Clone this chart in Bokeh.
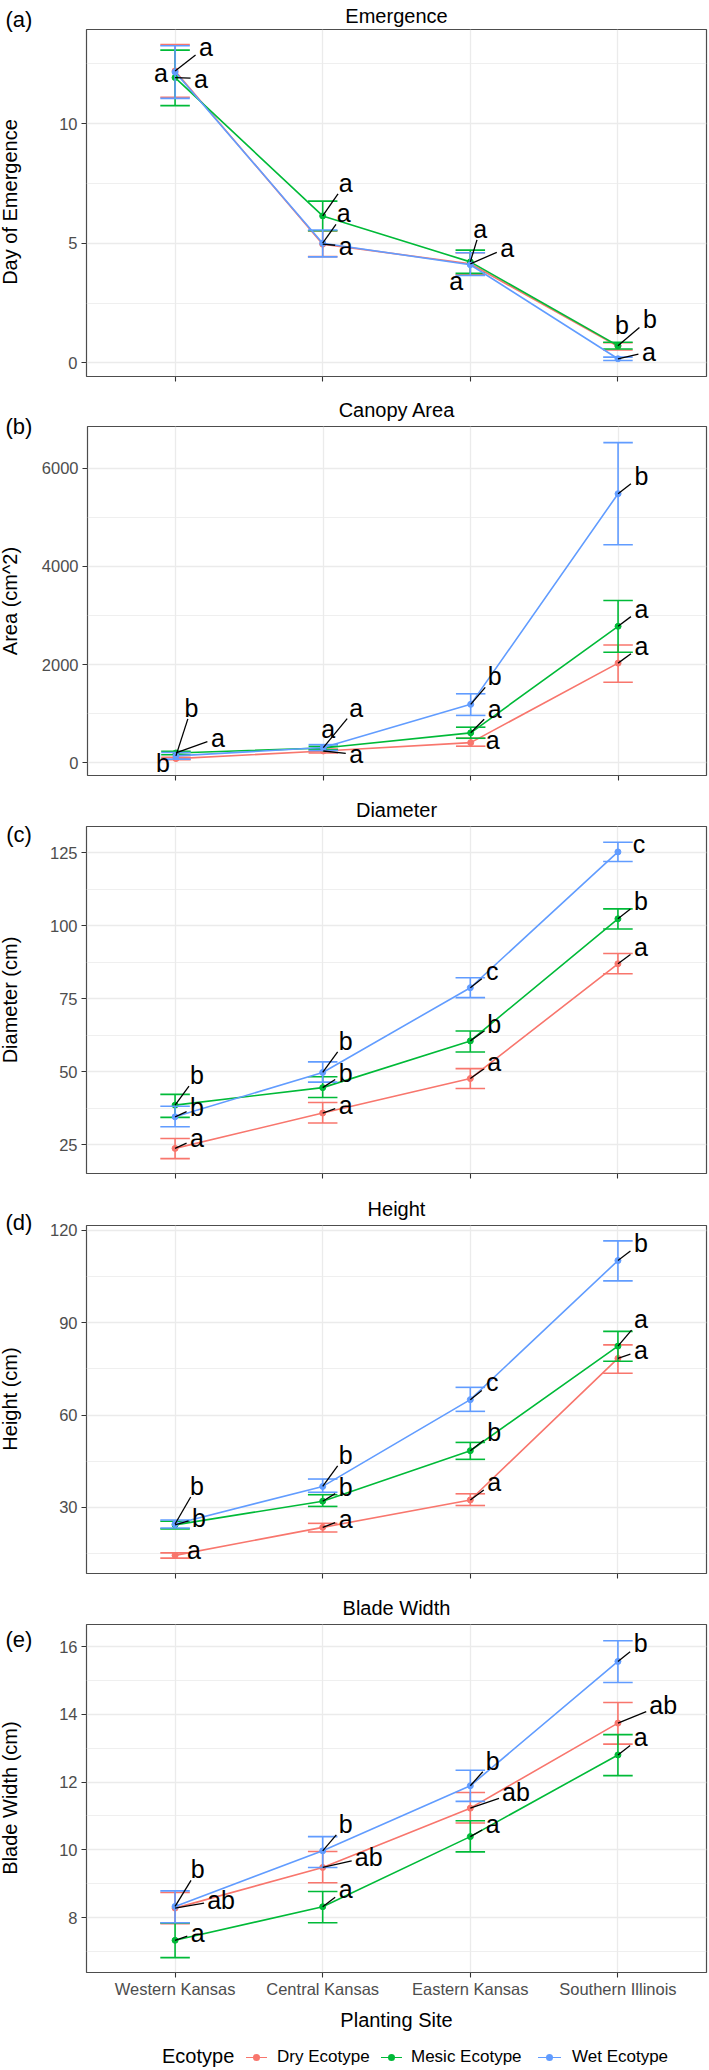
import math
from bokeh.plotting import figure
from bokeh.models import Range1d, FixedTicker, Div
from bokeh.layouts import column, row
from bokeh.embed import file_html
from bokeh.resources import INLINE
from bokeh.core.properties import value

# ---------------- data ----------------
SITES = ["Western Kansas", "Central Kansas", "Eastern Kansas", "Southern Illinois"]
ECOTYPES = ["Dry Ecotype", "Mesic Ecotype", "Wet Ecotype"]
COLORS = ["#F8766D", "#00BA38", "#619CFF"]

# (a) Emergence (day)
emer_dry = [12.20, 4.96, 4.14, 0.69]
emer_dry_lo = [11.10, 4.44, 3.68, 0.54]
emer_dry_hi = [13.30, 5.51, 4.60, 0.84]
emer_mesic = [11.92, 6.14, 4.22, 0.72]
emer_mesic_lo = [10.75, 5.52, 3.74, 0.58]
emer_mesic_hi = [13.07, 6.76, 4.71, 0.86]
emer_wet = [12.15, 5.00, 4.10, 0.17]
emer_wet_lo = [11.05, 4.43, 3.65, 0.10]
emer_wet_hi = [13.25, 5.55, 4.60, 0.24]
emer_letters = [["a", "a", "a", "b"], ["a", "a", "a", "b"], ["a", "a", "a", "a"]]

# (b) Canopy area (cm^2)
area_dry = [85, 240, 410, 2030]
area_dry_lo = [62, 200, 338, 1640]
area_dry_hi = [110, 280, 500, 2400]
area_mesic = [200, 300, 610, 2780]
area_mesic_lo = [165, 265, 500, 2250]
area_mesic_hi = [235, 335, 725, 3305]
area_wet = [140, 310, 1190, 5480]
area_wet_lo = [75, 250, 965, 4440]
area_wet_hi = [210, 370, 1405, 6520]
area_letters = [["b", "a", "a", "a"], ["a", "a", "a", "a"], ["b", "a", "b", "b"]]

# (c) Diameter (cm)
diam_dry = [23.8, 35.9, 47.7, 87.0]
diam_dry_lo = [20.3, 32.5, 44.3, 83.6]
diam_dry_hi = [27.2, 39.5, 51.1, 90.5]
diam_mesic = [38.6, 44.6, 60.6, 102.4]
diam_mesic_lo = [34.4, 41.2, 56.8, 98.9]
diam_mesic_hi = [42.3, 48.3, 64.0, 105.8]
diam_wet = [34.6, 49.8, 78.8, 125.3]
diam_wet_lo = [31.2, 46.5, 75.4, 122.0]
diam_wet_hi = [38.2, 53.4, 82.2, 128.6]
diam_letters = [["a", "a", "a", "a"], ["b", "b", "b", "b"], ["b", "b", "c", "c"]]

# (d) Height (cm)
hgt_dry = [14.4, 23.5, 32.4, 78.4]
hgt_dry_lo = [13.5, 22.0, 30.6, 73.6]
hgt_dry_hi = [15.2, 24.8, 34.4, 82.8]
hgt_mesic = [24.3, 32.0, 48.4, 82.4]
hgt_mesic_lo = [23.0, 30.3, 45.6, 77.5]
hgt_mesic_hi = [25.5, 34.1, 51.1, 87.2]
hgt_wet = [24.6, 36.8, 65.0, 110.2]
hgt_wet_lo = [23.3, 34.9, 61.2, 103.6]
hgt_wet_hi = [25.9, 39.2, 69.0, 116.6]
hgt_letters = [["a", "a", "a", "a"], ["b", "b", "b", "a"], ["b", "b", "c", "b"]]

# (e) Blade width (cm)
blade_dry = [8.28, 9.48, 11.23, 13.74]
blade_dry_lo = [7.82, 9.03, 10.79, 13.12]
blade_dry_hi = [8.74, 9.95, 11.69, 14.35]
blade_mesic = [7.33, 8.32, 10.39, 12.80]
blade_mesic_lo = [6.82, 7.85, 9.94, 12.19]
blade_mesic_hi = [7.84, 8.77, 10.86, 13.40]
blade_wet = [8.33, 9.97, 11.89, 15.56]
blade_wet_lo = [7.85, 9.48, 11.43, 14.94]
blade_wet_hi = [8.79, 10.39, 12.35, 16.17]
blade_letters = [["ab", "ab", "ab", "ab"], ["a", "a", "a", "a"], ["b", "b", "b", "b"]]

# ---------------- layout / style ----------------
FONT = "Liberation Sans"
PAGE_W = 709
STRIP_W = 38               # left strip holding panel tag and y title
FIG_W = PAGE_W - STRIP_W
FRAME_L = 86               # page x of plot frame left edge
FRAME_R = 706              # page x of plot frame right edge
FRAME_W = FRAME_R - FRAME_L
X_LO, X_HI = 0.4, 4.6
CAP_HALF = 0.1
TICK_GREY = "#4D4D4D"
GRID = "#EBEBEB"

# repel-label offsets in screen pixels (dx right, dy down), per ecotype per site
OFF_A = [[(31, -24), (23, 2), (37, -16), (4, -21)],
         [(26, 1), (23, -33), (10, -33), (32, -27)],
         [(-14, 1), (21, -30), (-14, 16), (31, -7)]]
OFF_B = [[(-13, 4), (33, 3.5), (22, -3), (23.4, -17)],
         [(42, -15), (5, -19), (24, -24), (23.4, -17.5)],
         [(15.5, -48), (33, -40), (24, -28), (23.4, -18)]]
OFF_C = [[(22, -10), (23, -8), (24, -17), (23, -17)],
         [(22, -30), (23, -15), (24, -17), (23, -18)],
         [(22, -10), (23, -31.5), (22, -17), (21, -8)]]
OFF_D = [[(19, -5), (23, -8.5), (24, -17.6), (23, -8)],
         [(24, -7), (23, -14), (24, -18.5), (23, -27)],
         [(22, -38), (23, -31.5), (22, -17.5), (23, -17.5)]]
OFF_E = [[(46, -8), (46, -10.6), (45.7, -15.7), (45.3, -18.4)],
         [(22.7, -7.7), (23, -17.6), (22.3, -12.5), (22.7, -17.5)],
         [(22.7, -37), (23, -27), (22.3, -25), (22.7, -18)]]

PANELS = [
    dict(tag="(a)", title="Emergence", ylabel="Day of Emergence",
         mean=[emer_dry, emer_mesic, emer_wet], lo=[emer_dry_lo, emer_mesic_lo, emer_wet_lo],
         hi=[emer_dry_hi, emer_mesic_hi, emer_wet_hi], letters=emer_letters, off=OFF_A,
         yr=(-0.57, 13.93), ticks=[0, 5, 10], minor=[2.5, 7.5, 12.5],
         geom=(28, 348, 14), tag_y=21.7, title_standoff=5, xlabels=False),
    dict(tag="(b)", title="Canopy Area", ylabel="Area (cm^2)",
         mean=[area_dry, area_mesic, area_wet], lo=[area_dry_lo, area_mesic_lo, area_wet_lo],
         hi=[area_dry_hi, area_mesic_hi, area_wet_hi], letters=area_letters, off=OFF_B,
         yr=(-259, 6849), ticks=[0, 2000, 4000, 6000], minor=[1000, 3000, 5000],
         geom=(36, 349, 14), tag_y=39, title_standoff=12, xlabels=False),
    dict(tag="(c)", title="Diameter", ylabel="Diameter (cm)",
         mean=[diam_dry, diam_mesic, diam_wet], lo=[diam_dry_lo, diam_mesic_lo, diam_wet_lo],
         hi=[diam_dry_hi, diam_mesic_hi, diam_wet_hi], letters=diam_letters, off=OFF_C,
         yr=(15.2, 134.0), ticks=[25, 50, 75, 100, 125], minor=[37.5, 62.5, 87.5, 112.5],
         geom=(37, 347, 14), tag_y=47.7, title_standoff=12, xlabels=False),
    dict(tag="(d)", title="Height", ylabel="Height (cm)",
         mean=[hgt_dry, hgt_mesic, hgt_wet], lo=[hgt_dry_lo, hgt_mesic_lo, hgt_wet_lo],
         hi=[hgt_dry_hi, hgt_mesic_hi, hgt_wet_hi], letters=hgt_letters, off=OFF_D,
         yr=(8.5, 121.6), ticks=[30, 60, 90, 120], minor=[15, 45, 75, 105],
         geom=(38, 348, 13), tag_y=38, title_standoff=12, xlabels=False),
    dict(tag="(e)", title="Blade Width", ylabel="Blade Width (cm)",
         mean=[blade_dry, blade_mesic, blade_wet], lo=[blade_dry_lo, blade_mesic_lo, blade_wet_lo],
         hi=[blade_dry_hi, blade_mesic_hi, blade_wet_hi], letters=blade_letters, off=OFF_E,
         yr=(6.38, 16.65), ticks=[8, 10, 12, 14, 16], minor=[7, 9, 11, 13, 15],
         geom=(38, 348, 64), tag_y=55.7, title_standoff=11, xlabels=True),
]


def make_strip(cfg):
    """Left strip (HTML) with the panel tag and the rotated y-axis title."""
    top, fh, bottom = cfg["geom"]
    H = top + fh + bottom
    cy = top + fh / 2
    html = (
        f'<div style="position:relative;width:{STRIP_W}px;height:{H}px;overflow:visible;'
        f"font-family:'{FONT}',sans-serif;color:#000;\">"
        f'<div style="position:absolute;left:0px;top:{cfg["tag_y"] - 15:.1f}px;width:{STRIP_W}px;'
        f'height:26px;line-height:26px;font-size:22px;text-align:center;">{cfg["tag"]}</div>'
        f'<div style="position:absolute;left:{9.5 - 170:.1f}px;top:{cy - 12:.1f}px;width:340px;'
        f'height:24px;line-height:24px;font-size:20px;text-align:center;white-space:nowrap;'
        f'transform:rotate(-90deg);transform-origin:50% 50%;">{cfg["ylabel"]}</div>'
        '</div>'
    )
    return Div(text=html, width=STRIP_W, height=H, margin=0)


def make_panel(cfg):
    top, fh, bottom = cfg["geom"]
    ylo, yhi = cfg["yr"]
    sx = FRAME_W / (X_HI - X_LO)
    sy = fh / (yhi - ylo)

    p = figure(width=FIG_W, height=top + fh + bottom,
               x_range=Range1d(X_LO, X_HI), y_range=Range1d(ylo, yhi),
               output_backend="svg", toolbar_location=None,
               min_border_left=FRAME_L - STRIP_W, min_border_right=PAGE_W - FRAME_R,
               min_border_top=top, min_border_bottom=bottom)
    p.background_fill_color = "white"
    p.border_fill_color = "white"
    p.outline_line_color = "#4D4D4D"
    p.outline_line_width = 1.2

    p.title.text = cfg["title"]
    p.title.align = "center"
    p.title.text_font = FONT
    p.title.text_font_size = "20px"
    p.title.text_font_style = "normal"
    p.title.text_color = "black"
    p.title.standoff = cfg["title_standoff"]

    xs = list(range(1, len(SITES) + 1))
    if cfg["xlabels"]:
        p.xaxis.ticker = FixedTicker(ticks=xs)
        p.xaxis.major_label_overrides = {i: s for i, s in zip(xs, SITES)}
        p.xaxis.axis_label = "Planting Site"
        p.xaxis.axis_label_text_font = FONT
        p.xaxis.axis_label_text_font_size = "20px"
        p.xaxis.axis_label_text_font_style = "normal"
        p.xaxis.axis_label_text_color = "black"
        p.xaxis.axis_label_standoff = 8
    else:
        p.xaxis.ticker = FixedTicker(ticks=[], minor_ticks=xs)
    p.xgrid.ticker = FixedTicker(ticks=xs)
    p.yaxis.ticker = FixedTicker(ticks=cfg["ticks"], minor_ticks=cfg["minor"])

    for ax in (p.xaxis[0], p.yaxis[0]):
        ax.axis_line_color = None
        ax.major_tick_line_color = "#333333"
        ax.major_tick_line_width = 1.1
        ax.major_tick_out = 5
        ax.major_tick_in = 0
        ax.minor_tick_out = 0
        ax.minor_tick_in = 0
        ax.major_label_text_font = FONT
        ax.major_label_text_color = TICK_GREY
        ax.major_label_text_font_size = "16.5px"
    if not cfg["xlabels"]:
        p.xaxis.minor_tick_out = 5
        p.xaxis.minor_tick_line_color = "#333333"
        p.xaxis.minor_tick_line_width = 1.1
    p.yaxis.major_label_standoff = 4
    p.xaxis.major_label_standoff = 2

    p.xgrid.grid_line_color = GRID
    p.xgrid.grid_line_width = 1.3
    p.ygrid.grid_line_color = GRID
    p.ygrid.grid_line_width = 1.3
    p.ygrid.minor_grid_line_color = GRID
    p.ygrid.minor_grid_line_width = 0.8

    # series: line, error bars, points
    for k in range(len(ECOTYPES)):
        c = COLORS[k]
        m, lo, hi = cfg["mean"][k], cfg["lo"][k], cfg["hi"][k]
        p.line(xs, m, line_color=c, line_width=1.6)
        p.segment(x0=xs, y0=lo, x1=xs, y1=hi, line_color=c, line_width=1.6)
        p.segment(x0=[x - CAP_HALF for x in xs], y0=lo, x1=[x + CAP_HALF for x in xs], y1=lo,
                  line_color=c, line_width=1.6)
        p.segment(x0=[x - CAP_HALF for x in xs], y0=hi, x1=[x + CAP_HALF for x in xs], y1=hi,
                  line_color=c, line_width=1.6)
        p.scatter(xs, m, size=6, fill_color=c, line_color=c)

    # repelled significance letters with leader segments
    tx, ty, tt = [], [], []
    sx0, sy0, sx1, sy1 = [], [], [], []
    for k in range(len(ECOTYPES)):
        for i, x in enumerate(xs):
            y = cfg["mean"][k][i]
            txt = cfg["letters"][k][i]
            ddx, ddy = cfg["off"][k][i]
            tx.append(x + ddx / sx)
            ty.append(y - ddy / sy)
            tt.append(txt)
            hw = 4 + 6.5 * len(txt)
            hh = 11.0
            t = min(hw / abs(ddx) if ddx else 1e9, hh / abs(ddy) if ddy else 1e9)
            seglen = (1 - t) * math.hypot(ddx, ddy)
            if t < 1 and seglen > 12:
                sx0.append(x)
                sy0.append(y)
                sx1.append(x + ddx * (1 - t) / sx)
                sy1.append(y - ddy * (1 - t) / sy)
    if sx0:
        p.segment(x0=sx0, y0=sy0, x1=sx1, y1=sy1, line_color="black", line_width=1.3)
    p.text(x=tx, y=ty, text=tt, text_align="center", text_baseline="middle",
           text_font=value(FONT), text_font_size="25px", text_color="black")
    return p


rows = [row(make_strip(cfg), make_panel(cfg), spacing=0) for cfg in PANELS]

# legend (HTML strip): title, then key line + dot + label for each ecotype
LEG_H = 34
KEY_Y = 21.3          # px from top of strip
BASE_Y = 27.0         # text baseline, px from top
key_x0 = [245.5, 381, 538]
key_x1 = [267, 402, 561]
txt_x = [277, 411, 572]
parts = [
    f'<div style="position:relative;width:{PAGE_W}px;height:{LEG_H}px;'
    f"font-family:'{FONT}',sans-serif;color:#000;\">",
    f'<div style="position:absolute;left:162px;top:{BASE_Y - 18.9:.1f}px;height:24px;'
    f'line-height:24px;font-size:20px;white-space:nowrap;">Ecotype</div>',
]
for name, col, a, b, t in zip(ECOTYPES, COLORS, key_x0, key_x1, txt_x):
    cx = (a + b) / 2
    parts.append(f'<div style="position:absolute;left:{a}px;top:{KEY_Y - 0.8:.1f}px;'
                 f'width:{b - a}px;height:1.6px;background:{col};"></div>')
    parts.append(f'<div style="position:absolute;left:{cx - 3.5:.1f}px;top:{KEY_Y - 3.5:.1f}px;'
                 f'width:7px;height:7px;border-radius:50%;background:{col};"></div>')
    parts.append(f'<div style="position:absolute;left:{t}px;top:{BASE_Y - 15.9:.1f}px;height:20px;'
                 f'line-height:20px;font-size:17px;white-space:nowrap;">{name}</div>')
parts.append('</div>')
legend = Div(text="".join(parts), width=PAGE_W, height=LEG_H, margin=0)

layout = column(*rows, legend, spacing=0)

open("out.html", "w").write(file_html(layout, INLINE))
